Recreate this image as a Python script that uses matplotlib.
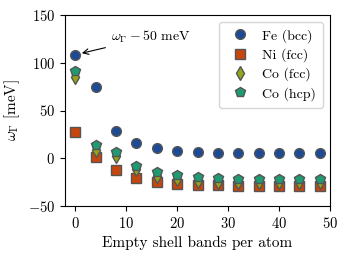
import matplotlib
matplotlib.use("Agg")
import matplotlib.pyplot as plt

plt.rcParams.update({
    "font.family": "serif",
    "font.serif": ["cmr10"],
    "mathtext.fontset": "cm",
    "axes.formatter.use_mathtext": True,
    "font.size": 10,
})

bands = [0, 4, 8, 12, 16, 20, 24, 28, 32, 36, 40, 44, 48]
fe_bcc = [108, 74.5, 28.5, 16, 10.5, 8, 6.5, 6, 5.8, 5.6, 5.5, 5.5, 5.5]
ni_fcc = [28, 1, -12.5, -21, -24.5, -26.5, -28, -28.5, -28.6, -28.7, -28.7, -28.8, -28.8]
co_fcc = [85, 8.5, 2, -11.5, -19, -22, -24, -24.5, -24.6, -24.7, -24.7, -24.8, -24.8]
co_hcp = [91, 13.5, 6.5, -8, -14.5, -17.5, -20, -21, -21.5, -21.6, -21.7, -21.7, -21.8]

labels = ["Fe (bcc)", "Ni (fcc)", "Co (fcc)", "Co (hcp)"]
colors = ["#1d4a94", "#c5470e", "#94a51a", "#1f9a72"]
markers = ["o", "s", "d", "p"]
series = [fe_bcc, ni_fcc, co_fcc, co_hcp]

fig = plt.figure(figsize=(3.47, 2.57), dpi=100)
ax = fig.add_axes([65/347, 1-206/257, (330-65)/347, (206-15)/257])

for vals, lab, c, m in zip(series, labels, colors, markers):
    ax.plot(bands, vals, linestyle="none", marker=m, markersize=7,
            markerfacecolor=c, markeredgecolor="#555555", markeredgewidth=1.0,
            label=lab)

ax.set_xlim(-2, 50)
ax.set_ylim(-50, 150)
ax.set_xticks([0, 10, 20, 30, 40, 50])
ax.set_yticks([-50, 0, 50, 100, 150])
ax.tick_params(labelsize=10.5)
ax.set_xlabel("Empty shell bands per atom", fontsize=11)
ax.set_ylabel(r"$\omega_\Gamma$ [meV]", fontsize=11)

ax.annotate(r"$\omega_\Gamma - 50$ meV", xy=(1.3, 110), xytext=(7, 127),
            fontsize=10, va="center", ha="left",
            arrowprops=dict(arrowstyle="->", color="black", lw=0.8,
                            shrinkA=2, shrinkB=0))

ax.legend(loc="upper right", frameon=True, fontsize=10, handletextpad=0.6,
          borderpad=0.5, labelspacing=0.4, framealpha=0.8, edgecolor="#cccccc")

fig.savefig("out.png", dpi=100)
